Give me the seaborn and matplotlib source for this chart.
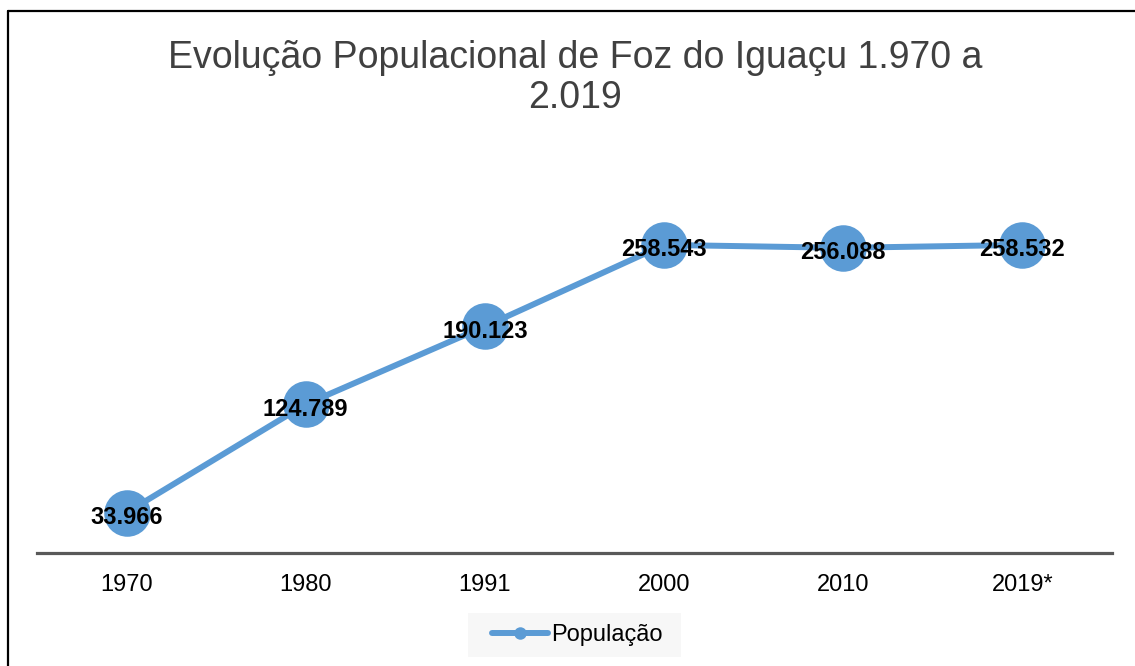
import matplotlib
matplotlib.use("Agg")
import matplotlib.pyplot as plt
import seaborn as sns
import pandas as pd
from matplotlib.lines import Line2D
from matplotlib.patches import Rectangle

anos = ["1970", "1980", "1991", "2000", "2010", "2019*"]
populacao = [33966, 124789, 190123, 258543, 256088, 258532]
rotulos = ["33.966", "124.789", "190.123", "258.543", "256.088", "258.532"]
serie = "População"
titulo = "Evolução Populacional de Foz do Iguaçu 1.970 a\n2.019"

sns.set_theme(style="white")
plt.rcParams["font.family"] = ["Liberation Sans", "DejaVu Sans"]

cor = "#5B9BD5"
W, H = 1135, 666
fig = plt.figure(figsize=(W / 100, H / 100), dpi=100)
ax = fig.add_axes([37 / W, (H - 553) / H, (1112 - 37) / W, 357.5 / H])

df = pd.DataFrame({"ano": anos, "pop": populacao})
sns.lineplot(data=df, x="ano", y="pop", ax=ax, color=cor, linewidth=4.3,
             marker="o", markersize=33.5, markeredgewidth=0, sort=False, legend=False)

for i, (v, t) in enumerate(zip(populacao, rotulos)):
    ax.annotate(t, (i, v), xytext=(0, -3.5), textcoords="offset points",
                ha="center", va="center", fontsize=17, fontweight="bold",
                color="black")

ax.set_xlim(-0.5, len(anos) - 0.5)
ax.set_ylim(0, 300000)
ax.set_yticks([])
ax.set_xlabel("")
ax.set_ylabel("")
for s in ["top", "right", "left"]:
    ax.spines[s].set_visible(False)
ax.spines["bottom"].set_color("#595959")
ax.spines["bottom"].set_linewidth(2.3)
ax.tick_params(axis="x", length=0, pad=15, labelsize=17, labelcolor="black")
ax.patch.set_alpha(0)

fig.text(575 / W, 1 - 78 / H, titulo, ha="center", va="center", fontsize=27,
         color="#404040", linespacing=1.15)

# legend background box
fig.add_artist(Rectangle((468 / W, 1 - 657 / H), (681 - 468) / W, 44 / H,
                         transform=fig.transFigure, facecolor="#f7f7f7",
                         edgecolor="none", zorder=0))
handle = Line2D([], [], color=cor, linewidth=4.3, marker="o", markersize=9,
                markeredgewidth=0)
leg = fig.legend([handle], [serie], loc="center", bbox_to_anchor=(577 / W, 31 / H),
                 frameon=False, fontsize=17, handlelength=2.4, handletextpad=0.1,
                 borderpad=0.45, labelcolor="black")

# outer frame (top and left)
fig.add_artist(Line2D([7.5 / W, 7.5 / W], [0, 1 - 10.5 / H], transform=fig.transFigure,
                      color="black", linewidth=1.6))
fig.add_artist(Line2D([7.5 / W, 1], [1 - 10.5 / H, 1 - 10.5 / H], transform=fig.transFigure,
                      color="black", linewidth=1.6))

fig.savefig("out.png", dpi=100)
